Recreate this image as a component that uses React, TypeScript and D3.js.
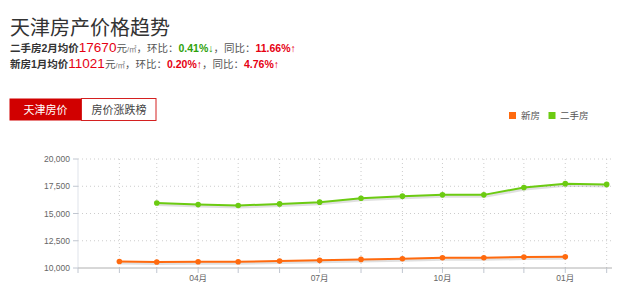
import React from "react";
import * as d3 from "d3";

const newMonths = ["2015-02", "2015-03", "2015-04", "2015-05", "2015-06", "2015-07", "2015-08", "2015-09", "2015-10", "2015-11", "2015-12", "2016-01"];
const newValues = [10600, 10550, 10580, 10580, 10640, 10700, 10790, 10850, 10940, 10940, 11000, 11021];
const oldMonths = ["2015-03", "2015-04", "2015-05", "2015-06", "2015-07", "2015-08", "2015-09", "2015-10", "2015-11", "2015-12", "2016-01", "2016-02"];
const oldValues = [15970, 15820, 15730, 15880, 16040, 16400, 16590, 16710, 16710, 17380, 17740, 17670];
const yTicks = [10000, 12500, 15000, 17500, 20000];
const xLabelMonths = ["2015-04", "2015-07", "2015-10", "2016-01"];
const legendNames = ["新房", "二手房"];

const ORANGE = "#FF6A0E";
const GREEN = "#6CCB12";
const RED = "#E60012";
const GREEN_TXT = "#2EA10A";
const FONT = "'Liberation Sans', Arial, 'Noto Sans CJK SC', sans-serif";

const parse = d3.timeParse("%Y-%m");

export default function App() {
  const x = d3.scaleTime().domain([new Date(2015, 0, 1), new Date(2016, 1, 5)]).range([78, 612]);
  const y = d3.scaleLinear().domain([10000, 20000]).range([268, 159]);
  const allMonths = d3.timeMonths(new Date(2015, 0, 1), new Date(2016, 1, 2));
  const newData = newMonths.map((m, i) => ({ d: parse(m) as Date, v: newValues[i] }));
  const oldData = oldMonths.map((m, i) => ({ d: parse(m) as Date, v: oldValues[i] }));
  const line = d3.line<{ d: Date; v: number }>().x((p) => x(p.d)).y((p) => y(p.v));
  const fmt = d3.format(",");
  const mfmt = d3.timeFormat("%m月");

  const series = [
    { data: newData, color: ORANGE },
    { data: oldData, color: GREEN },
  ];

  return (
    <svg width={640} height={298} style={{ position: "absolute", left: 0, top: 0, background: "#fff" }} fontFamily={FONT}>
      <rect width={640} height={298} fill="#fff" />
      {/* header */}
      <text x={10} y={35} fontSize={20} fill="#333">天津房产价格趋势</text>
      <text x={10} y={52} fontSize={10.5} fill="#333">
        <tspan fontWeight="bold">二手房2月均价</tspan>
        <tspan fill={RED} fontSize={13.5}>17670</tspan>
        <tspan fill="#555">元</tspan>
        <tspan fill="#777" fontSize={7.5}>/㎡</tspan>
        <tspan fill="#555">，环比：</tspan>
        <tspan fill={GREEN_TXT} fontWeight="bold">0.41%↓</tspan>
        <tspan fill="#555">，同比：</tspan>
        <tspan fill={RED} fontWeight="bold">11.66%↑</tspan>
      </text>
      <text x={10} y={67.5} fontSize={10.5} fill="#333">
        <tspan fontWeight="bold">新房1月均价</tspan>
        <tspan fill={RED} fontSize={13.5}>11021</tspan>
        <tspan fill="#555">元</tspan>
        <tspan fill="#777" fontSize={7.5}>/㎡</tspan>
        <tspan fill="#555">，环比：</tspan>
        <tspan fill={RED} fontWeight="bold">0.20%↑</tspan>
        <tspan fill="#555">，同比：</tspan>
        <tspan fill={RED} fontWeight="bold">4.76%↑</tspan>
      </text>

      {/* tabs */}
      <rect x={9.5} y={98.5} width={72} height={22} fill="#D10000" />
      <rect x={81.5} y={98.5} width={74.5} height={22} fill="#fff" stroke="#D42020" strokeWidth={1} />
      <text x={45.5} y={114} fontSize={11} fill="#fff" textAnchor="middle">天津房价</text>
      <text x={119} y={114} fontSize={11} fill="#444" textAnchor="middle">房价涨跌榜</text>

      {/* legend */}
      <rect x={509} y={112} width={7} height={7} fill={ORANGE} />
      <text x={521} y={118.5} fontSize={9.5} fill="#555">{legendNames[0]}</text>
      <rect x={548.5} y={112} width={7} height={7} fill={GREEN} />
      <text x={560} y={118.5} fontSize={9.5} fill="#555">{legendNames[1]}</text>

      {/* grid */}
      {yTicks.slice(1).map((t) => (
        <line key={"h" + t} x1={78} x2={612} y1={y(t)} y2={y(t)} stroke="#ccc" strokeDasharray="1,3" />
      ))}
      {allMonths.slice(1).map((m) => (
        <line key={"v" + m.getTime()} x1={x(m)} x2={x(m)} y1={159} y2={268} stroke="#ccc" strokeDasharray="1,3" />
      ))}
      <line x1={78} x2={78} y1={159} y2={268} stroke="#dfe3ea" />

      {/* y axis */}
      {yTicks.map((t) => (
        <g key={"y" + t}>
          <line x1={73} x2={78} y1={y(t)} y2={y(t)} stroke="#c0c6d0" />
          <text x={70} y={y(t) + 3} fontSize={8.5} fill="#666" textAnchor="end">{fmt(t)}</text>
        </g>
      ))}

      {/* x axis */}
      <line x1={78} x2={612} y1={268} y2={268} stroke="#b0b0b0" />
      {allMonths.map((m) => (
        <line key={"t" + m.getTime()} x1={x(m)} x2={x(m)} y1={268} y2={273} stroke="#c0c6d0" />
      ))}
      {xLabelMonths.map((s) => {
        const m = parse(s) as Date;
        return (
          <text key={"xl" + s} x={x(m)} y={281} fontSize={8.5} fill="#666" textAnchor="middle">{mfmt(m)}</text>
        );
      })}

      {/* series */}
      {series.map((s, i) => (
        <g key={"s" + i}>
          <path d={line(s.data) || ""} fill="none" stroke="#000" strokeOpacity={0.12} strokeWidth={3} transform="translate(1,1.5)" />
          <path d={line(s.data) || ""} fill="none" stroke={s.color} strokeWidth={2} />
          {s.data.map((p, j) => (
            <circle key={j} cx={x(p.d)} cy={y(p.v)} r={2.8} fill={s.color} />
          ))}
        </g>
      ))}
    </svg>
  );
}
